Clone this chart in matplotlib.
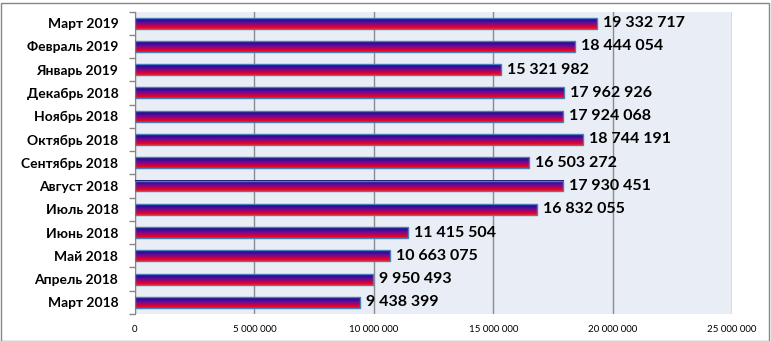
import matplotlib
matplotlib.use("Agg")
import matplotlib.pyplot as plt
import numpy as np
from matplotlib.colors import LinearSegmentedColormap
from matplotlib.patches import Rectangle
from matplotlib.ticker import FuncFormatter

months = ["Март 2018", "Апрель 2018", "Май 2018", "Июнь 2018", "Июль 2018",
          "Август 2018", "Сентябрь 2018", "Октябрь 2018", "Ноябрь 2018",
          "Декабрь 2018", "Январь 2019", "Февраль 2019", "Март 2019"]
values = [9438399, 9950493, 10663075, 11415504, 16832055, 17930451, 16503272,
          18744191, 17924068, 17962926, 15321982, 18444054, 19332717]
xticks = [0, 5000000, 10000000, 15000000, 20000000, 25000000]

plt.rcParams['font.family'] = ['Lato', 'DejaVu Sans']

fig = plt.figure(figsize=(7.71, 3.41), dpi=100)
ax = fig.add_axes([135/771, 27/341, (732-135)/771, (314-11.5)/341])
ax.set_facecolor("#e9edf5")

# red at the bottom of each bar, navy at the top
cmap = LinearSegmentedColormap.from_list(
    "grad", ["#ff1010", "#d0003c", "#7a0a8c", "#3c0aa0", "#121268"])
grad = np.linspace(0, 1, 64).reshape(-1, 1)

y = np.arange(len(months))
h = 0.47
bars = ax.barh(y, values, height=h, color="none", edgecolor="#4a7ebb",
               linewidth=1.0, zorder=4)
for yi, v in zip(y, values):
    ax.imshow(grad, cmap=cmap, extent=[0, v, yi - h/2, yi + h/2],
              aspect="auto", origin="lower", zorder=3, interpolation="bilinear")
    ax.text(v + 250000, yi, f"{v:,}".replace(",", " "), va="center", ha="left",
            fontsize=11.5, fontweight="bold", color="black", zorder=5)

ax.set_xlim(0, 25000000)
ax.set_ylim(-0.5, len(months) - 0.5)
ax.set_xticks(xticks)
ax.xaxis.set_major_formatter(FuncFormatter(lambda x, p: f"{int(x):,}".replace(",", " ")))
ax.tick_params(axis="x", length=0, labelsize=7, pad=8)
ax.set_yticks(y)
ax.set_yticklabels(months, fontsize=10, fontweight="bold")
ax.tick_params(axis="y", length=0, pad=12)
ax.set_yticks(np.arange(-0.5, len(months), 1), minor=True)
ax.tick_params(axis="y", which="minor", length=4, color="#868686", width=1)
ax.grid(axis="x", color="#8c8c8c", linewidth=1, zorder=1)
ax.set_axisbelow(True)
for s in ["top", "right", "bottom"]:
    ax.spines[s].set_visible(False)
ax.spines["left"].set_color("#868686")

fig.patches.append(Rectangle((0.5/771, 0.5/341), 1 - 3/771, 1 - 3/341,
                             transform=fig.transFigure, fill=False,
                             edgecolor="#868686", linewidth=1))

fig.savefig("out.png", dpi=100)
